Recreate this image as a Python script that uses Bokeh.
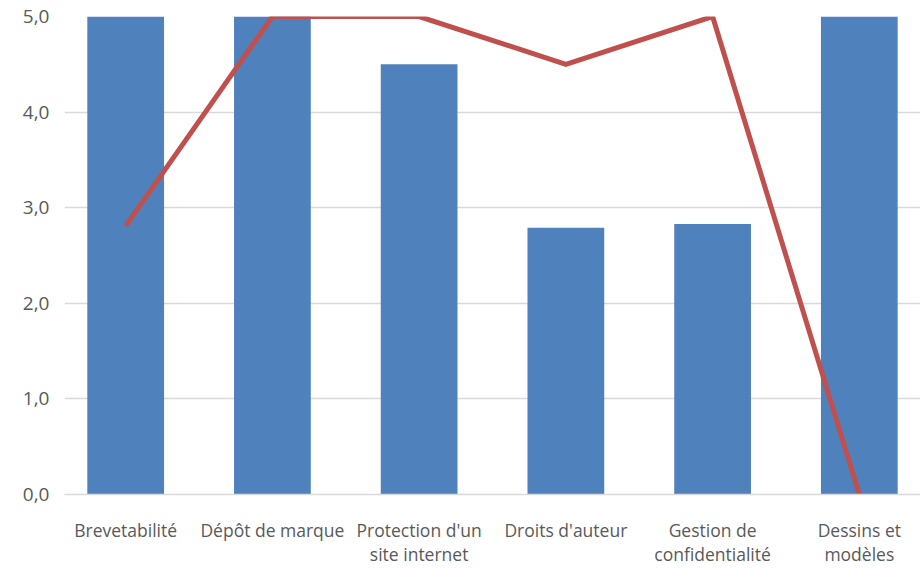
from bokeh.plotting import figure
from bokeh.models import FactorRange, Range1d, FixedTicker
from bokeh.embed import file_html
from bokeh.resources import INLINE

# Categories (with line breaks as shown on the axis)
categories = [
    "Brevetabilité",
    "Dépôt de marque",
    "Protection d'un\nsite internet",
    "Droits d'auteur",
    "Gestion de\nconfidentialité",
    "Dessins et\nmodèles",
]
bar_values = [5.0, 5.0, 4.5, 2.79, 2.83, 5.0]
line_values = [2.81, 5.0, 5.0, 4.5, 5.0, 0.0]
y_ticks = [0, 1, 2, 3, 4, 5]
y_tick_labels = ["0,0", "1,0", "2,0", "3,0", "4,0", "5,0"]

FONT = "Open Sans"
TEXT = "#595959"
GRID = "#D9D9D9"

p = figure(
    width=920, height=568,
    x_range=FactorRange(factors=categories, range_padding=-0.083,
                        range_padding_units="absolute"),
    y_range=Range1d(0, 5),
    output_backend="svg", toolbar_location=None,
    min_border_left=64, min_border_right=0,
    min_border_top=16, min_border_bottom=73,
)
p.outline_line_color = None
p.background_fill_color = "white"
p.border_fill_color = "white"

p.vbar(x=categories, top=bar_values, width=0.523,
       fill_color="#4F81BD", line_color=None)
p.line(x=categories, y=line_values, line_color="#C0504D", line_width=5,
       line_join="miter")

# Y axis: labels only, comma decimals
p.yaxis.ticker = FixedTicker(ticks=y_ticks)
p.yaxis.major_label_overrides = {t: l for t, l in zip(y_ticks, y_tick_labels)}
p.yaxis.axis_line_color = None
p.yaxis.major_tick_line_color = None
p.yaxis.minor_tick_line_color = None
p.yaxis.major_label_standoff = 9
p.yaxis.major_label_text_font = FONT
p.yaxis.major_label_text_font_size = "19px"
p.yaxis.major_label_text_color = TEXT

# X axis: the baseline acts as axis line
p.xaxis.axis_line_color = GRID
p.xaxis.axis_line_width = 1.5
p.xaxis.major_tick_line_color = None
p.xaxis.minor_tick_line_color = None
p.xaxis.major_label_standoff = 17
p.xaxis.major_label_text_font = FONT
p.xaxis.major_label_text_font_size = "17.5px"
p.xaxis.major_label_text_color = TEXT
p.xaxis.major_label_text_line_height = 1.02

p.xgrid.grid_line_color = None
p.ygrid.grid_line_color = GRID
p.ygrid.grid_line_width = 1.5

open("out.html", "w").write(file_html(p, INLINE))
